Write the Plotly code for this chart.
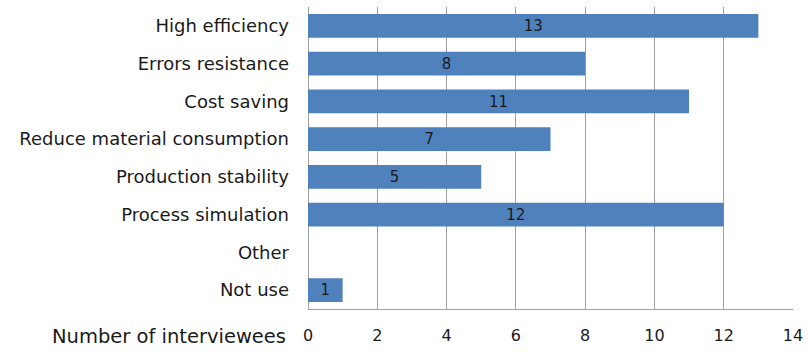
import plotly.graph_objects as go

categories = ["High efficiency", "Errors resistance", "Cost saving",
              "Reduce material consumption", "Production stability",
              "Process simulation", "Other", "Not use"]
values = [13, 8, 11, 7, 5, 12, 0, 1]
x_ticks = [0, 2, 4, 6, 8, 10, 12, 14]
x_title = "Number of interviewees"

font_family = "DejaVu Sans"
bar_color = "#4F81BD"
text_color = "#1a1a1a"

labels = [str(v) if v > 0 else "" for v in values]

fig = go.Figure(go.Bar(
    x=values, y=categories, orientation="h",
    marker=dict(color=bar_color, line=dict(width=0)),
    text=labels, textposition="inside", insidetextanchor="middle",
    textangle=0,
    textfont=dict(family=font_family, size=16, color=text_color),
    cliponaxis=False,
))

fig.update_layout(
    width=808, height=352,
    margin=dict(l=308, r=15, t=7, b=43, autoexpand=False),
    plot_bgcolor="white", paper_bgcolor="white",
    bargap=0.37,
    showlegend=False,
    uniformtext=dict(mode=False),
    font=dict(family=font_family, size=16, color=text_color),
)
fig.update_xaxes(
    range=[0, 14], tickvals=x_ticks, showgrid=True, gridcolor="#a0a0a0",
    gridwidth=1, zeroline=True, zerolinecolor="#a0a0a0", zerolinewidth=1,
    showline=True, linecolor="#a0a0a0", linewidth=1, mirror=False,
    ticks="", ticklabelstandoff=12, tickfont=dict(size=16),
    automargin=False,
)
fig.update_yaxes(
    categoryorder="array", categoryarray=categories[::-1],
    showgrid=False, showline=False, ticks="", ticklabelstandoff=18,
    tickfont=dict(size=18), automargin=False,
)
fig.add_annotation(
    text=x_title, xref="paper", yref="paper", x=0, y=0,
    xanchor="right", yanchor="top", xshift=-20, yshift=-14,
    showarrow=False, font=dict(family=font_family, size=19.5, color=text_color),
)
fig.write_html(
    "out.html",
    config={"displayModeBar": False},
    post_script="document.body.style.margin='0';document.body.style.padding='0';",
)
